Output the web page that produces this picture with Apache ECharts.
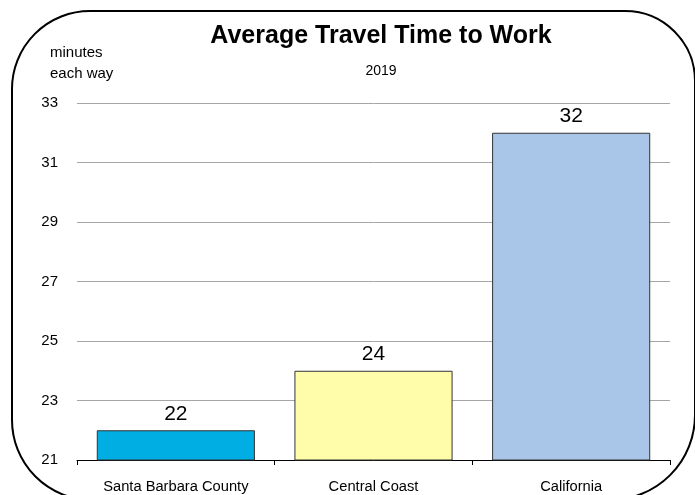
<!DOCTYPE html>
<html>
<head>
<meta charset="utf-8">
<script src="https://cdn.jsdelivr.net/npm/echarts@6/dist/echarts.min.js"></script>
<style>
html,body{margin:0;padding:0;background:#fff;}
#chart{width:695px;height:495px;}
</style>
</head>
<body>
<div id="chart"></div>
<script>
const categories = ["Santa Barbara County", "Central Coast", "California"];
const values = [22, 24, 32];
const barColors = ["#00AEE4", "#FFFCAA", "#A9C6E9"];
const titleText = "Average Travel Time to Work";
const subtitleText = "2019";
const yAxisName = "minutes\neach way";

const chart = echarts.init(document.getElementById('chart'), null, {renderer: 'canvas'});
const font = "'Liberation Sans', Arial, sans-serif";
chart.setOption({
  animation: false,
  backgroundColor: '#fff',
  graphic: [{
    type: 'rect',
    shape: {x: 12, y: 11, width: 683, height: 489, r: [78, 70, 85, 80]},
    style: {fill: 'none', stroke: '#000', lineWidth: 2},
    z: 100
  }, {
    type: 'text',
    left: 50, top: 42,
    style: {text: yAxisName, font: "15px " + font, fill: '#000', lineHeight: 21}
  }],
  title: {
    text: titleText,
    subtext: subtitleText,
    left: 376, textAlign: 'center',
    top: 19,
    itemGap: 15,
    textStyle: {fontFamily: font, fontWeight: 'bold', fontSize: 25, color: '#000'},
    subtextStyle: {fontFamily: font, fontSize: 14, color: '#000'}
  },
  grid: {left: 77, right: 25, top: 103, bottom: 35, containLabel: false},
  xAxis: {
    type: 'category',
    data: categories,
    axisLine: {lineStyle: {color: '#000', width: 1}},
    axisTick: {show: true, length: 5, lineStyle: {color: '#000'}},
    axisLabel: {fontFamily: font, fontSize: 14.7, color: '#000', margin: 19}
  },
  yAxis: {
    type: 'value',
    min: 21, max: 33, interval: 2,
    axisLine: {show: false},
    axisTick: {show: false},
    splitLine: {lineStyle: {color: '#A6A6A6', width: 1}},
    axisLabel: {fontFamily: font, fontSize: 15, color: '#000', margin: 19}
  },
  series: [{
    type: 'bar',
    data: values.map((v, i) => ({value: v, itemStyle: {color: barColors[i]}})),
    barCategoryGap: '20%',
    itemStyle: {borderColor: '#333', borderWidth: 1},
    label: {show: true, position: 'top', distance: 6, fontFamily: font, fontSize: 21, color: '#000'}
  }]
});
</script>
</body>
</html>
